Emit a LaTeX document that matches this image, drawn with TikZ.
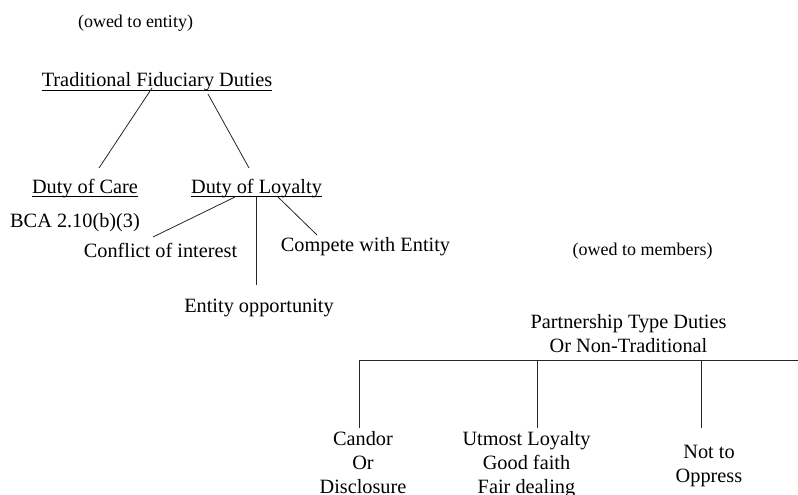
\documentclass[tikz,border=0pt]{standalone}
\usepackage{fontspec}
\setmainfont{Liberation Serif}
\usetikzlibrary{calc}
\tikzset{
  txt/.style={inner sep=0pt, anchor=base, font=\fontsize{20.3}{24}\selectfont, align=center},
  small/.style={inner sep=0pt, anchor=base, font=\fontsize{18}{22}\selectfont},
  conn/.style={line width=0.8pt, draw=black!85},
  uline/.style={line width=0.9pt}
}
\begin{document}
\begin{tikzpicture}[x=1pt,y=-1pt]
\useasboundingbox (0,0) rectangle (798,495);
% texts
\node[small] (entity) at (135.5,28) {(owed to entity)};
\node[txt] (trad) at (157,87) {Traditional Fiduciary Duties};
\node[txt] (care) at (85,193) {Duty of Care};
\node[txt] (loyal) at (256.5,193) {Duty of Loyalty};
\node[txt, anchor=base west] (bca) at (10,227) {BCA 2.10(b)(3)};
\node[txt] (conflict) at (160.5,257) {Conflict of interest};
\node[txt] (compete) at (365.5,251) {Compete with Entity};
\node[txt] (opp) at (259,312) {Entity opportunity};
\node[small] (members) at (642.5,255) {(owed to members)};
\node[txt, font=\fontsize{20.3}{23.8}\selectfont] (part) at (628.5,352) {Partnership Type Duties\\Or Non-Traditional};
\node[txt] (candor) at (363,493) {Candor\\Or\\Disclosure};
\node[txt] (utmost) at (526.5,493) {Utmost Loyalty\\Good faith\\Fair dealing};
\node[txt] (oppress) at (709,482) {Not to\\Oppress};
% underlines
\foreach \n in {trad,care,loyal}
  \draw[uline] ($(\n.base west)+(0,3)$) -- ($(\n.base east)+(0,3)$);
% connectors
\draw[conn] ($(trad.base)+(-5,1)$) -- ($(care.base)+(14,-25)$);
\draw[conn] ($(trad.base)+(51,7)$) -- ($(loyal.base)+(-7.5,-25)$);
\draw[conn] ($(loyal.base)+(-21.5,4)$) -- ($(conflict.base)+(-7.5,-20)$);
\draw[conn] ($(loyal.base)+(-0.5,4)$) -- ($(opp.base)+(-3,-27)$);
\draw[conn] ($(loyal.base)+(21.5,4)$) -- ($(compete.base)+(-48.5,-16)$);
\coordinate (barL) at (359,360.5);
\coordinate (barR) at (798,360.5);
\draw[conn] (barL) -- (barR);
\draw[conn] (barL) -- ($(candor.base)+(-4,-65)$);
\draw[conn] ($(utmost.base)+(10.5,-65)$) -- ++(0,-67.5);
\draw[conn] ($(oppress.base)+(-8,-54)$) -- ++(0,-67.5);
\end{tikzpicture}
\end{document}
